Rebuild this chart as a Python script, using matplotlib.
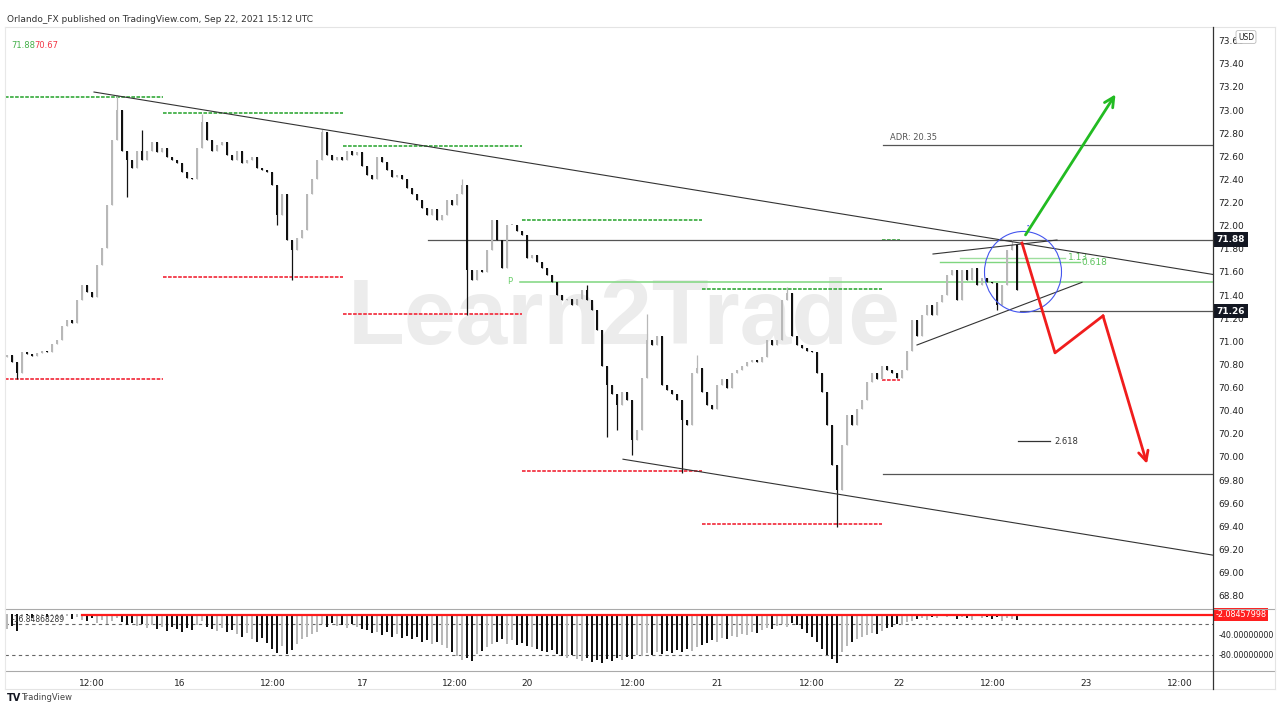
import numpy as np
import matplotlib.pyplot as plt
import matplotlib.transforms as mtrans
from matplotlib.patches import Ellipse, Arc
from matplotlib.lines import Line2D

# ---- price data (bar closes) ----
close = [
    70.88, 70.82, 70.73, 70.91, 70.89, 70.87, 70.90, 70.92, 70.91, 70.98,
    71.01, 71.13, 71.18, 71.16, 71.36, 71.49, 71.43, 71.38, 71.66, 71.81,
    72.18, 72.74, 73.00, 72.65, 72.57, 72.50, 72.65, 72.57, 72.65, 72.72,
    72.64, 72.67, 72.59, 72.57, 72.54, 72.46, 72.41, 72.40, 72.67, 72.90,
    72.74, 72.65, 72.70, 72.72, 72.61, 72.57, 72.65, 72.54, 72.57, 72.59,
    72.50, 72.48, 72.46, 72.35, 72.09, 72.27, 71.88, 71.79, 71.89, 71.96,
    72.27, 72.40, 72.57, 72.81, 72.61, 72.57, 72.59, 72.57, 72.65, 72.61,
    72.64, 72.52, 72.44, 72.40, 72.59, 72.55, 72.48, 72.42, 72.44, 72.40,
    72.33, 72.27, 72.22, 72.15, 72.09, 72.14, 72.05, 72.09, 72.22, 72.18,
    72.27, 72.35, 71.62, 71.53, 71.62, 71.60, 71.79, 72.05, 71.88, 71.63,
    72.01, 72.01, 71.95, 71.92, 71.72, 71.75, 71.69, 71.63, 71.57, 71.51,
    71.40, 71.36, 71.37, 71.31, 71.37, 71.44, 71.36, 71.27, 71.10, 70.79,
    70.62, 70.54, 70.45, 70.56, 70.49, 70.15, 70.23, 70.68, 71.01, 70.97,
    71.05, 70.62, 70.58, 70.54, 70.49, 70.32, 70.28, 70.73, 70.77, 70.56,
    70.45, 70.41, 70.62, 70.67, 70.60, 70.73, 70.75, 70.79, 70.82, 70.84,
    70.82, 70.86, 71.01, 70.97, 71.01, 71.36, 71.42, 71.05, 70.97, 70.94,
    70.92, 70.91, 70.73, 70.56, 70.28, 69.93, 69.71, 70.10, 70.36, 70.28,
    70.41, 70.49, 70.65, 70.73, 70.67, 70.79, 70.75, 70.73, 70.68, 70.75,
    70.92, 71.18, 71.05, 71.23, 71.31, 71.23, 71.34, 71.40, 71.57, 71.62,
    71.36, 71.62, 71.53, 71.63, 71.49, 71.55, 71.51, 71.50, 71.31, 71.49,
    71.79, 71.83, 71.44,
]
first_open = 70.86
# visible wick extremes (bar index -> price)
high_marks = {22: 73.13, 27: 72.83, 39: 72.97, 63: 72.84, 91: 72.40, 116: 71.49,
              128: 71.24, 138: 70.88, 156: 71.47, 201: 71.88}
low_marks = {2: 70.67, 24: 72.25, 54: 72.01, 57: 71.53, 92: 71.23, 120: 70.17,
             122: 70.23, 125: 70.02, 135: 69.86, 166: 69.39, 198: 71.27}

# ---- oscillator pane ----
osc = [
    -30, -24, -33,
    -6, -3, -8, -2, -5, -7, -4, -6, -9, -5, -10, -7, -12,
    -15, -9, -18, -12, -20, -14, -8, -16, -22, -18,
    -24, -20, -28, -22, -30, -26, -33, -25, -30, -35, -28, -32, -22, -15, -26, -30, -34, -28, -36, -32,
    -40, -45, -38, -50, -55, -48, -57,
    -68, -76, -62, -78, -70,
    -58, -50, -45, -40, -35,
    -20, -26, -18, -24, -22, -28, -20, -25, -30,
    -32, -38, -35, -42, -36, -45, -40, -47, -44,
    -50, -46, -55, -52, -58, -54, -60,
    -66, -75, -82, -90, -85, -92,
    -78, -72, -65, -58,
    -55, -50, -58, -52, -60, -56, -62, -65,
    -68, -72, -75, -70, -78, -82, -85, -80, -88, -92, -86, -94, -90, -95, -88, -92, -85, -90, -84, -88, -80,
    -82, -76, -80, -74, -78, -72, -76, -70, -74, -68, -72, -65, -60,
    -56, -52, -55, -48, -50, -44, -46, -40, -42, -36, -38, -32,
    -28, -30, -24, -20, -26, -18, -22, -30,
    -38, -45, -55, -68, -80, -88, -96,
    -75, -62, -55, -50, -46, -42, -38, -40, -34,
    -28, -25, -20, -22, -16, -14,
    -10, -8, -12, -6, -9, -5, -7, -4, -10, -6, -8, -12, -5, -9, -7, -11, -6, -14, -8, -10, -12,
]
osc_last = -2.08457998

# ---- previous-day high / low levels ----
lvl_start = [-0.4, 31.2, 67.2, 103.0, 139.0, 175.0]
lvl_end = [31.2, 67.2, 103.0, 139.0, 175.0, 178.6]
lvl_high = [73.115, 72.975, 72.69, 72.05, 71.455, 71.876]
lvl_low = [70.673, 71.556, 71.236, 69.878, 69.42, 70.665]

# ---- time axis ----
tick_pos = [17, 34.6, 53.2, 71.2, 89.6, 104, 125.2, 142, 161, 178.4, 197.2, 215.8, 234.6]
tick_lab = ["12:00", "16", "12:00", "17", "12:00", "20", "12:00", "21", "12:00", "22", "12:00", "23", "12:00"]

XMIN, XMAX = -0.4, 241.2
YMIN, YMAX = 68.693, 73.7185

W, H = 1280, 720
fig = plt.figure(figsize=(12.8, 7.2), dpi=100)
fig.patch.set_facecolor('white')


def box(l, t, r, b):
    return [l / W, 1 - b / H, (r - l) / W, (b - t) / H]


ax = fig.add_axes(box(5, 27, 1213, 608))
ax2 = fig.add_axes(box(5, 609, 1213, 671))

n = len(close)
x = np.arange(n)
c = np.array(close)
o = np.array([first_open] + close[:-1])
hi = np.maximum(o, c)
lo = np.minimum(o, c)
for k, v in high_marks.items():
    hi[k] = v
for k, v in low_marks.items():
    lo[k] = v
up = c >= o
cols = np.where(up, '#b8b8b8', '#111111')

# watermark
ax.text(123.5, 71.18, "Learn2Trade", fontsize=67, color='#ececec', ha='center', va='center',
        family='Liberation Sans', fontweight='bold', zorder=0)

# candles
ax.vlines(x, lo, hi, colors=cols, lw=0.9, zorder=3)
ax.bar(x, np.maximum(np.abs(c - o), 0.008), bottom=np.minimum(o, c), width=0.5,
       color=cols, zorder=4)

# day high/low levels
for s, e, h, l in zip(lvl_start, lvl_end, lvl_high, lvl_low):
    ax.plot([s, e], [h, h], color='#43b049', lw=1.3, ls=(0, (2, 0.8)), zorder=2)
    ax.plot([s, e], [l, l], color='#f23645', lw=1.3, ls=(0, (2, 0.8)), zorder=2)

# trendlines
ax.plot([17.4, 241.2], [73.156, 71.578], color='#333333', lw=0.8, zorder=5)
ax.plot([123.2, 241.2], [69.98, 69.15], color='#333333', lw=0.8, zorder=5)
ax.plot([185.2, 210.0], [71.755, 71.876], color='#333333', lw=0.8, zorder=5)
ax.plot([182.0, 215.0], [70.968, 71.51], color='#333333', lw=0.8, zorder=5)

# horizontal levels
ax.plot([84.2, XMAX], [71.88, 71.88], color='#555555', lw=0.9, zorder=2)
ax.plot([202.6, XMAX], [71.26, 71.26], color='#555555', lw=0.9, zorder=2)
ax.plot([175.2, XMAX], [72.70, 72.70], color='#555555', lw=0.9, zorder=2)
ax.plot([175.2, XMAX], [69.85, 69.85], color='#555555', lw=0.9, zorder=2)
ax.plot([202.2, 208.6], [70.137, 70.137], color='#333333', lw=0.9, zorder=2)
ax.text(209.4, 70.137, "2.618", fontsize=6, color='#333333', va='center', ha='left')
ax.text(176.6, 72.767, "ADR: 20.35", fontsize=6, color='#555555', va='center', ha='left')

# pivot + fib levels
ax.plot([102.6, XMAX], [71.513, 71.513], color='#7fd67f', lw=1.1, zorder=2)
ax.text(100.6, 71.52, "P", fontsize=6, color='#6ccf6c', va='center', ha='center')
ax.plot([190.6, 211.6], [71.72, 71.72], color='#9ede9e', lw=1.0, zorder=2)
ax.plot([186.6, 214.6], [71.686, 71.686], color='#7fd67f', lw=1.0, zorder=2)
ax.text(212.2, 71.725, "1.13", fontsize=6.5, color='#5cc35c', va='center', ha='left')
ax.text(214.8, 71.68, "0.618", fontsize=6.5, color='#5cc35c', va='center', ha='left')

# circle on the breakout zone
ax.add_patch(Ellipse((203.2, 71.60), width=15.4, height=0.70, fill=False, ec='#4455ee', lw=0.8, zorder=6))
ax.add_patch(Arc((204.2, 71.60), width=16.5, height=0.80, theta1=62, theta2=108, ec='#4455ee', lw=0.8, zorder=6))

# scenario arrows
ax.annotate('', xy=(222.0, 73.156), xytext=(203.4, 71.90),
            arrowprops=dict(arrowstyle='->,head_length=0.7,head_width=0.35', color='#22bb22', lw=2), zorder=7)
ax.plot([203.0, 209.6, 219.2], [71.85, 70.90, 71.22], color='#f01d1d', lw=2, zorder=7)
ax.annotate('', xy=(228.0, 69.94), xytext=(219.2, 71.22),
            arrowprops=dict(arrowstyle='->,head_length=0.7,head_width=0.35', color='#f01d1d', lw=2,
                            shrinkA=0, shrinkB=0), zorder=7)

ax.set_xlim(XMIN, XMAX)
ax.set_ylim(YMIN, YMAX)
ax.set_xticks([])
ax.yaxis.tick_right()
ax.set_yticks(np.arange(68.8, 73.61, 0.2))
ax.set_yticklabels([f"{v:.2f}" for v in np.arange(68.8, 73.61, 0.2)])
ax.tick_params(axis='y', length=0, pad=4, labelsize=6.5, labelcolor='#222222')
for sp in ax.spines.values():
    sp.set_visible(False)

trans = mtrans.blended_transform_factory(ax.transAxes, ax.transData)
for val in [71.88, 71.26]:
    ax.text(1.003, val, f"{val:.2f}", transform=trans, fontsize=6.5, color='white', fontweight='bold',
            va='center', ha='left', zorder=10,
            bbox=dict(boxstyle='square,pad=0.3', fc='#131722', ec='none'))

# oscillator pane
ax2.bar(x, osc, width=0.35, color=cols, zorder=3)
ax2.axhline(-20, color='#666666', lw=0.8, ls=(0, (3, 3)), zorder=1)
ax2.axhline(-80, color='#666666', lw=0.8, ls=(0, (3, 3)), zorder=1)
ax2.plot([15, XMAX], [osc_last, osc_last], color='#ff1a1a', lw=1.6, zorder=4)
ax2.set_xlim(XMIN, XMAX)
ax2.set_ylim(-111, 8.9)
ax2.yaxis.tick_right()
ax2.set_yticks([-40, -80])
ax2.set_yticklabels(["-40.00000000", "-80.00000000"])
ax2.tick_params(axis='y', length=0, pad=4, labelsize=5.8, labelcolor='#222222')
ax2.set_xticks(tick_pos)
ax2.set_xticklabels(tick_lab)
ax2.tick_params(axis='x', length=0, pad=6, labelsize=6.5, labelcolor='#222222')
for sp in ax2.spines.values():
    sp.set_visible(False)
trans2 = mtrans.blended_transform_factory(ax2.transAxes, ax2.transData)
ax2.text(1.002, osc_last, "-2.08457998", transform=trans2, fontsize=5.8, color='white',
         va='center', ha='left', zorder=10,
         bbox=dict(boxstyle='square,pad=0.25', fc='#ff2020', ec='none'))


# frame lines (figure pixels)
def hline(y, x0, x1, color, lw=0.8):
    fig.add_artist(Line2D([x0 / W, x1 / W], [1 - y / H, 1 - y / H], color=color, lw=lw))


def vline(xp, y0, y1, color, lw=0.8):
    fig.add_artist(Line2D([xp / W, xp / W], [1 - y0 / H, 1 - y1 / H], color=color, lw=lw))


hline(27, 5, 1275, '#e4e4e4')
hline(609, 5, 1275, '#aaaaaa')
hline(671, 5, 1275, '#aaaaaa')
hline(689, 5, 1275, '#e4e4e4')
vline(5, 27, 689, '#e8e8e8')
vline(1275, 27, 689, '#e4e4e4')
vline(1213, 27, 689, '#333333', lw=0.9)

# header and legends
fig.text(7 / W, 1 - 20 / H, "Orlando_FX published on TradingView.com, Sep 22, 2021 15:12 UTC",
         fontsize=6.5, color='#333333', va='center', ha='left')
fig.text(11 / W, 1 - 46 / H, "71.88", fontsize=6, color='#43b049', va='center', ha='left')
fig.text(34 / W, 1 - 46 / H, "70.67", fontsize=6, color='#f23645', va='center', ha='left')
fig.text(1246 / W, 1 - 37 / H, "USD", fontsize=5.5, color='#222222', va='center', ha='center',
         bbox=dict(boxstyle='round,pad=0.25', fc='white', ec='#bbbbbb', lw=0.6))
fig.text(12 / W, 1 - 620 / H, "-16.84868289", fontsize=5.5, color='#333333', va='center', ha='left')
fig.text(7 / W, 1 - 698 / H, "TV", fontsize=7, fontweight='bold', color='#131722', va='center', ha='left')
fig.text(21 / W, 1 - 698 / H, "TradingView", fontsize=6, color='#444444', va='center', ha='left')

fig.savefig('out.png', dpi=100, facecolor='white')
